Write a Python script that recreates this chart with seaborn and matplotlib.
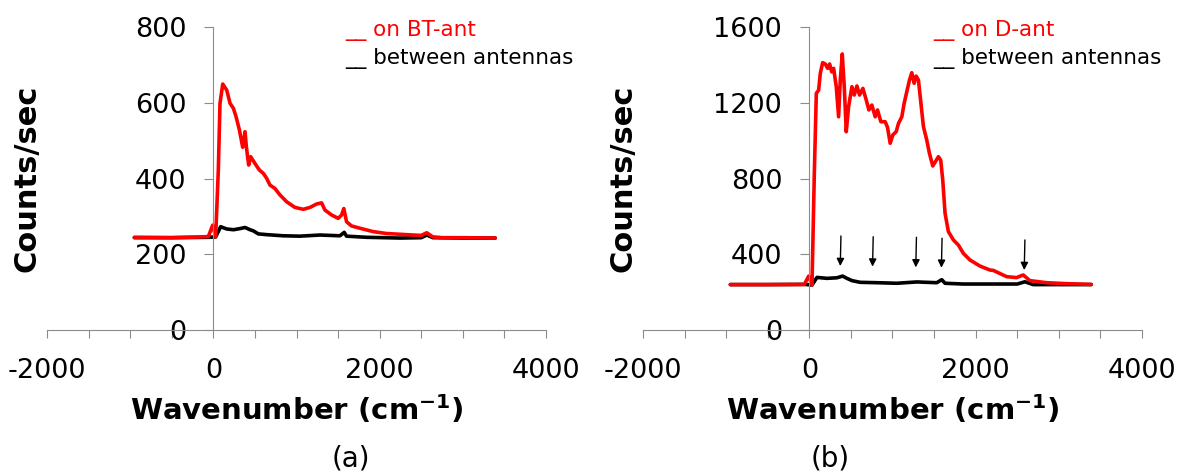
import matplotlib
matplotlib.use("Agg")
import matplotlib.pyplot as plt
import seaborn as sns
import pandas as pd

# ---- spectra: (a) BT-antenna, (b) D-antenna ----
wn_bt_on = [-950, -500, -160, -60, -8, 28, 60, 80, 113, 161, 201, 241, 273, 313, 353, 381,
            397, 425, 449, 501, 553, 601, 641, 681, 741, 801, 881, 981, 1082, 1162, 1242,
            1302, 1342, 1422, 1502, 1542, 1569, 1602, 1662, 1762, 1922, 2082, 2242, 2405,
            2500, 2566, 2640, 2750, 3000, 3390]
cts_bt_on = [245, 244, 246, 247, 277, 246, 423, 599, 650, 634, 599, 586, 564, 529, 483, 524,
             484, 436, 458, 440, 423, 414, 401, 383, 374, 357, 339, 324, 319, 324, 333,
             336, 317, 304, 295, 304, 321, 286, 275, 269, 260, 255, 253, 251,
             250, 257, 246, 244, 244, 243]

wn_bt_off = [-950, -500, -60, 28, 88, 161, 241, 321, 381, 441, 481, 541, 641, 841, 1041,
             1282, 1522, 1574, 1602, 1842, 2242, 2500, 2566, 2640, 3000, 3390]
cts_bt_off = [244, 244, 245, 246, 273, 267, 265, 268, 271, 265, 262, 254, 252, 249, 248,
              251, 249, 258, 248, 245, 243, 244, 251, 244, 243, 243]

wn_d_on = [-950, -500, -60, -8, 32, 60, 84, 112, 132, 160, 192, 220, 244, 268, 292, 324,
           352, 372, 396, 420, 444, 472, 512, 540, 572, 604, 644, 684, 716, 752, 792, 820,
           860, 912, 940, 972, 1004, 1044, 1072, 1112, 1140, 1172, 1204, 1232, 1260, 1284,
           1312, 1344, 1372, 1412, 1444, 1484, 1516, 1552, 1580, 1604, 1632, 1672, 1732,
           1792, 1852, 1932, 2052, 2172, 2212, 2372, 2492, 2572, 2652, 2852, 3092, 3390]
cts_d_on = [240, 240, 241, 285, 238, 828, 1251, 1268, 1357, 1413, 1406, 1383, 1406, 1365,
            1383, 1286, 1127, 1321, 1459, 1286, 1048, 1180, 1286, 1242, 1290, 1242, 1277,
            1216, 1163, 1189, 1127, 1163, 1101, 1101, 1071, 987, 1031, 1048, 1092, 1127,
            1198, 1260, 1321, 1360, 1304, 1342, 1321, 1189, 1075, 1004, 934, 867, 890, 916,
            898, 793, 617, 520, 476, 449, 405, 370, 338, 317, 315, 282, 277, 291, 261, 250,
            245, 241]

wn_d_off = [-950, -500, -60, 32, 92, 212, 332, 400, 452, 512, 612, 812, 1052, 1292, 1532,
            1592, 1632, 1852, 2172, 2500, 2592, 2692, 3000, 3390]
cts_d_off = [240, 240, 241, 238, 278, 273, 276, 285, 273, 261, 252, 250, 247, 254, 250,
             266, 247, 243, 243, 243, 255, 240, 240, 240]

# marked bands in panel (b): wavenumber, arrow tail and arrow head heights
band_wn = [372, 760, 1280, 1588, 2584]
band_tail = [497, 493, 490, 485, 476]
band_head = [338, 335, 331, 329, 317]

panel_ymax = [800, 1600]
panel_ystep = [200, 400]
xtick_major = [-2000, 0, 2000, 4000]
xtick_minor = [-1500, -1000, -500, 500, 1000, 1500, 2500, 3000, 3500]
legend_on = ["__ on BT-ant", "__ on D-ant"]
legend_off = "__ between antennas"
captions = ["(a)", "(b)"]

sns.set_style("white")
plt.rcParams["font.family"] = ["DejaVu Sans"]
plt.rcParams["text.color"] = "black"
plt.rcParams["axes.labelcolor"] = "black"

W, H = 1180, 474
fig = plt.figure(figsize=(W / 100, H / 100), dpi=100)

AX_LEFT = [47, 643]      # pixel position of x = -2000
AX_W = 499
AX_TOP, AX_BOT = 27.3, 330
GRAY = "#8c8c8c"

panels = [
    (wn_bt_on, cts_bt_on, wn_bt_off, cts_bt_off),
    (wn_d_on, cts_d_on, wn_d_off, cts_d_off),
]

for i, (xo, yo, xb, yb) in enumerate(panels):
    ax = fig.add_axes([AX_LEFT[i] / W, 1 - AX_BOT / H, AX_W / W, (AX_BOT - AX_TOP) / H])
    off = pd.DataFrame({"wn": xb, "cts": yb})
    on = pd.DataFrame({"wn": xo, "cts": yo})
    sns.lineplot(data=off, x="wn", y="cts", ax=ax, color="black", lw=2.6,
                 estimator=None, sort=False)
    sns.lineplot(data=on, x="wn", y="cts", ax=ax, color="red", lw=2.6,
                 estimator=None, sort=False)

    ax.set_xlim(-2000, 4000)
    ax.set_ylim(0, panel_ymax[i])
    ax.set_xticks(xtick_major)
    ax.set_xticklabels([str(v) for v in xtick_major])
    ax.set_xticks(xtick_minor, minor=True)
    yt = list(range(0, panel_ymax[i] + 1, panel_ystep[i]))
    ax.set_yticks(yt)
    ax.set_yticklabels([str(v) for v in yt])

    for s in ("top", "right"):
        ax.spines[s].set_visible(False)
    ax.spines["left"].set_position(("data", 0))
    for s in ("left", "bottom"):
        ax.spines[s].set_color(GRAY)
        ax.spines[s].set_linewidth(0.8)
    ax.tick_params(axis="x", which="both", direction="out", length=6, width=0.8,
                   color=GRAY, labelcolor="black", labelsize=19.5, pad=14, bottom=True)
    ax.tick_params(axis="y", which="both", direction="out", length=6.5, width=0.8,
                   color=GRAY, labelcolor="black", labelsize=19.5, pad=13, left=True)
    ax.patch.set_alpha(0)

    ax.set_xlabel("Wavenumber (cm$^{\\mathbf{-1}}$)", fontsize=21, fontweight="bold")
    ax.xaxis.label.set_va("baseline")
    ax.xaxis.set_label_coords(0.5, (AX_BOT - 420) / (AX_BOT - AX_TOP))
    ax.set_ylabel("Counts/sec", fontsize=22, fontweight="bold")
    ax.yaxis.label.set_va("center")
    ax.yaxis.set_label_coords((27 - AX_LEFT[0]) / AX_W, 0.5)

    if i == 1:
        for bx, t0, t1 in zip(band_wn, band_tail, band_head):
            ax.annotate("", xy=(bx, t1), xytext=(bx + 8, t0),
                        arrowprops=dict(arrowstyle="-|>", color="black", lw=1.0,
                                        mutation_scale=11, shrinkA=0, shrinkB=0))

    lx = [345, 933][i]
    fig.text(lx / W, 1 - 36 / H, legend_on[i], color="red", fontsize=15.5, va="baseline")
    fig.text(lx / W, 1 - 64 / H, legend_off, color="black", fontsize=15.5, va="baseline")
    fig.text([350.6, 830.6][i] / W, 1 - 458 / H, captions[i], ha="center", va="center",
             fontsize=20)

fig.savefig("out.png", dpi=100, facecolor="white")
